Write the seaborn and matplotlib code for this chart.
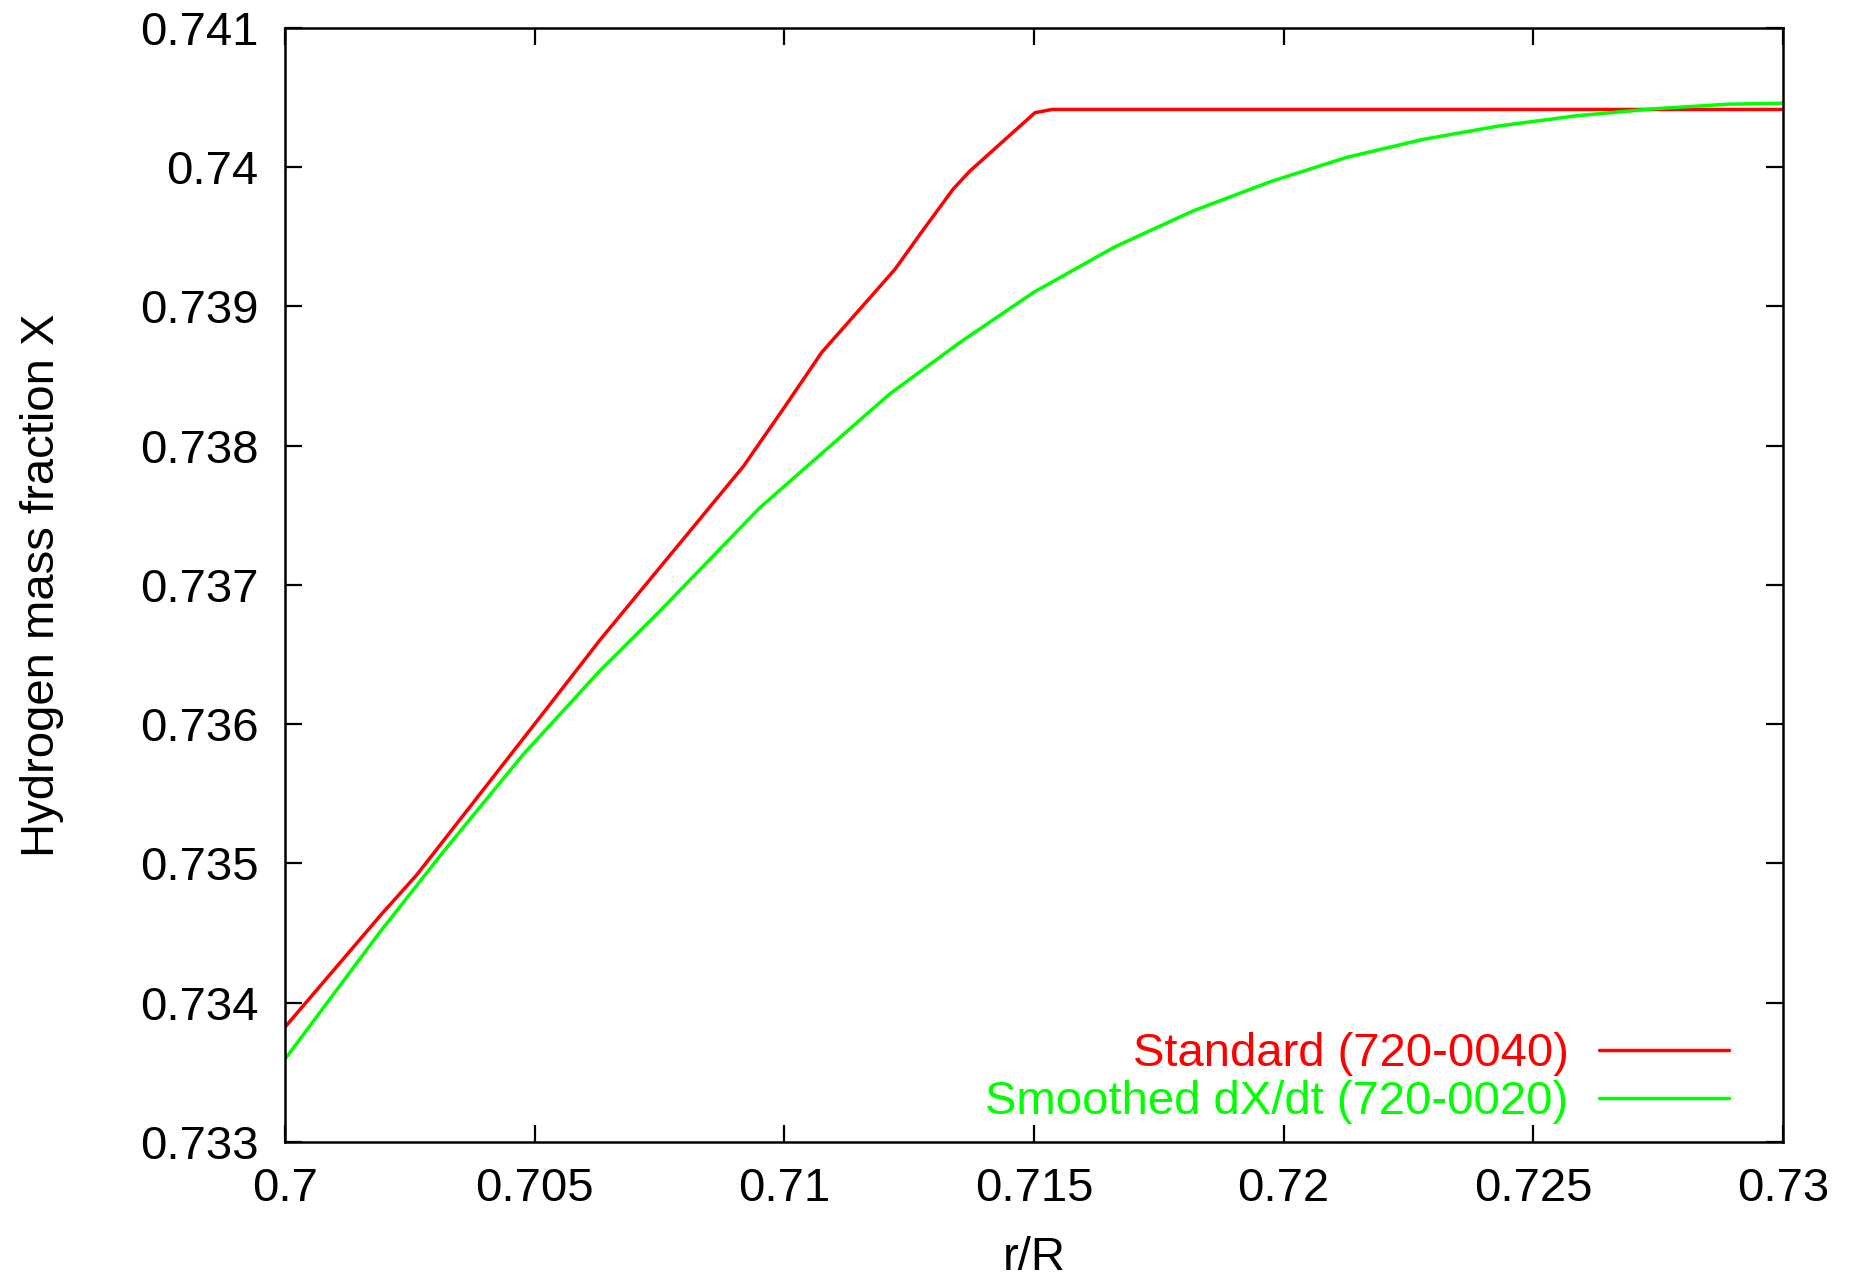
import matplotlib
matplotlib.use("Agg")
import matplotlib.pyplot as plt
from matplotlib.ticker import FormatStrFormatter, MultipleLocator
import seaborn as sns
import pandas as pd

# ---- data ----
std_label = "Standard (720-0040)"
std_x = [0.7, 0.70194, 0.70264, 0.70524, 0.70631, 0.70918, 0.70998, 0.71075,
         0.71172, 0.71222, 0.71272, 0.71338, 0.71372, 0.71502, 0.71536, 0.73]
std_y = [0.733825, 0.734639, 0.734919, 0.736112, 0.736606, 0.737852, 0.738265,
         0.738671, 0.739065, 0.739269, 0.739520, 0.739843, 0.739974, 0.740392,
         0.740415, 0.740415]

smo_label = "Smoothed dX/dt (720-0020)"
smo_x = [0.7, 0.7019, 0.70317, 0.70477, 0.70631, 0.70751, 0.70951, 0.71051,
         0.71211, 0.71352, 0.71499, 0.71661, 0.71819, 0.71973, 0.72126, 0.72279,
         0.72432, 0.72585, 0.72738, 0.72891, 0.73]
smo_y = [0.733595, 0.734507, 0.735084, 0.735783, 0.736386, 0.736814, 0.737555,
         0.737870, 0.738372, 0.738743, 0.739101, 0.739427, 0.739687, 0.739896,
         0.740071, 0.740200, 0.740297, 0.740369, 0.740419, 0.740453, 0.740460]

x_label = "r/R"
y_label = "Hydrogen mass fraction X"
x_range = (0.7, 0.73)
y_range = (0.733, 0.741)

sns.set_theme(style="white")
plt.rcParams["font.family"] = ["Liberation Sans", "DejaVu Sans"]

FS = 34
fig = plt.figure(figsize=(18.56, 12.8), dpi=100)
ax = fig.add_axes([285 / 1856, 1 - 1142 / 1280, 1498 / 1856, 1114 / 1280])

df_std = pd.DataFrame({"x": std_x, "y": std_y})
df_smo = pd.DataFrame({"x": smo_x, "y": smo_y})
sns.lineplot(data=df_std, x="x", y="y", ax=ax, color="#ff0000", lw=2.5,
             sort=False, estimator=None, label=std_label)
sns.lineplot(data=df_smo, x="x", y="y", ax=ax, color="#00ff00", lw=2.5,
             sort=False, estimator=None, label=smo_label)

ax.set_xlim(*x_range)
ax.set_ylim(*y_range)
ax.xaxis.set_major_locator(MultipleLocator(0.005))
ax.yaxis.set_major_locator(MultipleLocator(0.001))
ax.xaxis.set_major_formatter(FormatStrFormatter("%g"))
ax.yaxis.set_major_formatter(FormatStrFormatter("%g"))

for s in ax.spines.values():
    s.set_color("black")
    s.set_linewidth(1.8)

ax.tick_params(axis="both", which="major", direction="in", length=12, width=1.6,
               color="black", labelsize=FS, labelcolor="black",
               top=True, right=True, bottom=True, left=True)
ax.tick_params(axis="x", pad=18)
ax.tick_params(axis="y", pad=19)

ax.set_xlabel(x_label, fontsize=FS, color="black")
ax.set_ylabel(y_label, fontsize=FS, color="black")
ax.xaxis.set_label_coords(0.5, -0.104)
ax.xaxis.label.set_va("center")
ax.yaxis.set_label_coords(-0.162, 0.5)
ax.yaxis.label.set_va("center")

leg = ax.legend(loc="lower right", bbox_to_anchor=(0.964, 0.016), frameon=False,
                markerfirst=False, fontsize=FS, handlelength=2.75,
                handletextpad=0.65, labelspacing=0.08, borderpad=0,
                borderaxespad=0, labelcolor="linecolor")

fig.savefig("out.png", dpi=100, facecolor="white")
